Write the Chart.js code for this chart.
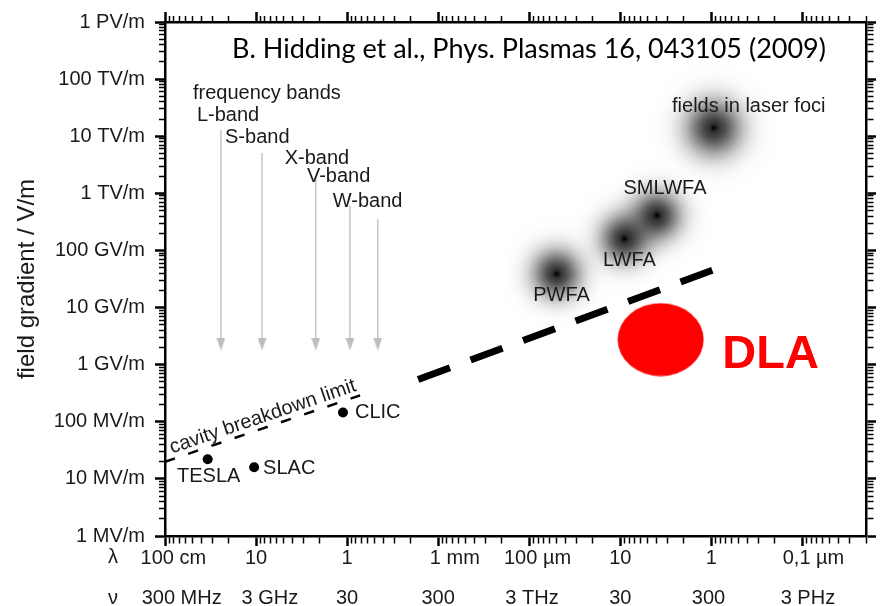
<!DOCTYPE html>
<html>
<head>
<meta charset="utf-8">
<title>Accelerating field gradients</title>
<script src="https://cdn.jsdelivr.net/npm/chart.js@4.4.0/dist/chart.umd.min.js"></script>
<style>
  html, body { margin: 0; padding: 0; background: #fff; }
</style>
</head>
<body>
<canvas id="myChart" width="880" height="606"></canvas>
<script>
// axis ranges (wavelength in m, field in V/m, frequency in Hz)
const lambdaMin = 2e-8, lambdaMax = 1;
const fieldMin = 1e6, fieldMax = 1e15;
const freqMin = 3e8, freqMax = 1.5e16;

// tick labels
const lambdaTicks = [1, 0.1, 0.01, 1e-3, 1e-4, 1e-5, 1e-6, 1e-7];
const lambdaLabels = ['100 cm', '10', '1', '1 mm', '100 µm', '10', '1', '0,1 µm'];
const freqTicks = [3e8, 3e9, 3e10, 3e11, 3e12, 3e13, 3e14, 3e15];
const freqLabels = ['300 MHz', '3 GHz', '30', '300', '3 THz', '30', '300', '3 PHz'];
const fieldTicks = [1e6, 1e7, 1e8, 1e9, 1e10, 1e11, 1e12, 1e13, 1e14, 1e15];
const fieldLabels = ['1 MV/m', '10 MV/m', '100 MV/m', '1 GV/m', '10 GV/m', '100 GV/m',
                     '1 TV/m', '10 TV/m', '100 TV/m', '1 PV/m'];

// rf accelerators
const rfNames = ['TESLA', 'SLAC', 'CLIC'];
const rfLambda = [0.34, 0.105, 0.0111];
const rfField = [2.2e7, 1.6e7, 1.45e8];

// plasma / laser regimes
const plasmaNames = ['PWFA', 'LWFA', 'SMLWFA', 'fields in laser foci'];
const plasmaLambda = [5.0e-5, 9.0e-6, 3.95e-6, 9.4e-7];
const plasmaField = [3.9e10, 1.6e11, 4.1e11, 1.4e13];

// dielectric laser acceleration
const dlaLambda = [3.6e-6];
const dlaField = [2.75e9];

// cavity breakdown limit (thin) and its extension (thick)
const cavityLambda = [1, 7.2e-3];
const cavityField = [2.0e7, 2.9e8];
const limitLambda = [1.66e-3, 9.75e-7];
const limitField = [5.5e8, 4.5e10];

// frequency band arrows
const bandNames = ['L-band', 'S-band', 'X-band', 'V-band', 'W-band'];
const bandLambda = [0.243, 0.086, 0.0221, 0.0093, 0.0046];
const bandTop = [1.28e13, 5.1e12, 2.0e12, 6.1e11, 3.5e11];
const bandBottom = 2.3e9;

// ---- styling helpers ----
const FONT = "'Liberation Sans', Arial, sans-serif";
const INK = '#1a1a1a';
const lambdaNudge = [9, 0, 0, 16, 8, 0, 0, 11];
const freqNudge = [16, 13, 0, 0, 3, 0, -4, 6];

function isDecade(v) {
  const e = Math.log10(v);
  return Math.abs(e - Math.round(e)) < 1e-6;
}
function sameLog(a, b) { return Math.abs(Math.log10(a) - Math.log10(b)) < 1e-6; }

function logTicks(min, max) {
  const out = [];
  for (let e = Math.floor(Math.log10(min)); e <= Math.ceil(Math.log10(max)); e++) {
    for (let k = 1; k < 10; k++) {
      const v = k * Math.pow(10, e);
      if (v >= min * 0.999 && v <= max * 1.001) out.push({ value: v, major: k === 1 });
    }
  }
  return out;
}

function nudge(label, px) {
  const n = Math.round(Math.abs(px) / 2.8);
  return px >= 0 ? ' '.repeat(n) + label : label + ' '.repeat(n);
}

function frame(side) {
  const outerFirst = side === 'left' || side === 'top';
  return {
    drawOnChartArea: false,
    drawTicks: true,
    tickLength: 10,
    tickColor: '#000',
    tickWidth: c => (c.tick && c.tick.major ? 2.5 : 1.5),
    tickBorderDash: c => (c.tick && c.tick.major ? [] : (outerFirst ? [0, 4, 6, 100] : [6, 100])),
    color: 'rgba(0,0,0,0)'
  };
}
const border = { display: true, color: '#000', width: 2.5 };

// blob / ellipse / arrowhead sprites used as point styles
function makeBlob(sigma) {
  const size = Math.ceil(sigma * 7);
  const c = document.createElement('canvas');
  c.width = c.height = size;
  const g = c.getContext('2d');
  const img = g.createImageData(size, size);
  const m = (size - 1) / 2;
  for (let j = 0; j < size; j++) {
    for (let i = 0; i < size; i++) {
      const r2 = (i - m) * (i - m) + (j - m) * (j - m);
      const a = 0.82 * Math.exp(-r2 / (2 * sigma * sigma)) + 0.18 * Math.exp(-r2 / 8);
      const p = (j * size + i) * 4;
      img.data[p] = img.data[p + 1] = img.data[p + 2] = 0;
      img.data[p + 3] = Math.round(Math.min(1, a) * 255);
    }
  }
  g.putImageData(img, 0, 0);
  return c;
}
function makeEllipse(w, h, color) {
  const c = document.createElement('canvas');
  c.width = w; c.height = h;
  const g = c.getContext('2d');
  g.fillStyle = color;
  g.beginPath();
  g.ellipse(w / 2, h / 2, w / 2 - 0.5, h / 2 - 0.5, 0, 0, Math.PI * 2);
  g.fill();
  return c;
}
function makeArrowHead(w, h, color) {
  const c = document.createElement('canvas');
  c.width = w; c.height = h;
  const g = c.getContext('2d');
  g.fillStyle = color;
  g.beginPath();
  g.moveTo(0, 0); g.lineTo(w, 0); g.lineTo(w / 2, h); g.closePath();
  g.fill();
  return c;
}

const blobSmall = makeBlob(16.5);
const blobBig = makeBlob(19);
const dlaSprite = makeEllipse(87, 74, '#ff0000');
const arrowSprite = makeArrowHead(9, 13, '#bdbdbd');

const pts = (xs, ys) => xs.map((x, i) => ({ x: x, y: ys[i] }));

const datasets = [
  {
    label: 'rf', data: pts(rfLambda, rfField),
    pointStyle: 'circle', pointRadius: 5, backgroundColor: '#000', borderWidth: 0
  },
  {
    label: 'DLA', data: pts(dlaLambda, dlaField),
    pointStyle: dlaSprite, pointRadius: 10
  },
  {
    label: 'cavity', data: pts(cavityLambda, cavityField), showLine: true,
    borderColor: '#000', borderWidth: 2.5, borderDash: [10.5, 14], pointRadius: 0
  },
  {
    label: 'limit', data: pts(limitLambda, limitField), showLine: true,
    borderColor: '#000', borderWidth: 7, borderDash: [34, 22], pointRadius: 0
  }
];
bandNames.forEach((name, i) => {
  datasets.push({
    label: name,
    data: [{ x: bandLambda[i], y: bandTop[i] }, { x: bandLambda[i], y: bandBottom }],
    showLine: true, borderColor: '#c4c4c4', borderWidth: 1.5,
    pointRadius: [0, 5], pointStyle: arrowSprite
  });
});
datasets.push({
  label: 'plasma', data: pts(plasmaLambda, plasmaField),
  pointRadius: 10, pointStyle: [blobSmall, blobSmall, blobSmall, blobBig]
});

// label placement relative to marks (px)
const rfLabelPos = [[1, 17, 'center'], [9, 1, 'left'], [12, 0, 'left']];
const plasmaLabelPos = [[5, 22], [5, 22], [8, -27], [35, -21]];
const bandLabelPos = [[-24, -15], [-37, -15], [-31, -18], [-43, -29], [-45, -18]];

const annotate = {
  id: 'annotate',
  afterDatasetsDraw(chart) {
    const { ctx, scales } = chart;
    const X = v => scales.x.getPixelForValue(v);
    const Y = v => scales.y.getPixelForValue(v);
    const put = (s, x, y, align, font, color) => {
      ctx.font = font || '20px ' + FONT;
      ctx.fillStyle = color || INK;
      ctx.textAlign = align || 'center';
      ctx.textBaseline = 'middle';
      ctx.fillText(s, x, y);
    };
    ctx.save();

    rfNames.forEach((n, i) => {
      const p = rfLabelPos[i];
      put(n, X(rfLambda[i]) + p[0], Y(rfField[i]) + p[1], p[2]);
    });
    plasmaNames.forEach((n, i) => {
      const p = plasmaLabelPos[i];
      put(n, X(plasmaLambda[i]) + p[0], Y(plasmaField[i]) + p[1], 'center');
    });
    bandNames.forEach((n, i) => {
      const p = bandLabelPos[i];
      put(n, X(bandLambda[i]) + p[0], Y(bandTop[i]) + p[1], 'left');
    });
    put('frequency bands', X(bandLambda[0]) - 28, Y(bandTop[0]) - 37, 'left');

    // DLA
    put('DLA', X(dlaLambda[0]) + 110, Y(dlaField[0]) + 15, 'center', 'bold 47px ' + FONT, '#ff0000');

    // cavity breakdown limit, written along the line
    const x0 = X(cavityLambda[0]), y0 = Y(cavityField[0]);
    const x1 = X(cavityLambda[1]), y1 = Y(cavityField[1]);
    const ang = Math.atan2(y1 - y0, x1 - x0);
    const mx = (x0 + x1) / 2 + Math.cos(ang) * 4 + Math.sin(ang) * 11;
    const my = (y0 + y1) / 2 + Math.sin(ang) * 4 - Math.cos(ang) * 11;
    ctx.save();
    ctx.translate(mx, my);
    ctx.rotate(ang);
    put('cavity breakdown limit', 0, 0, 'center');
    ctx.restore();

    // row markers for the two bottom axes
    put('λ', 113, scales.x.top + 21, 'center');
    put('ν', 113, scales.nu.top + 22, 'center');

    // citation
    const area = chart.chartArea;
    put('B. Hidding et al., Phys. Plasmas 16, 043105 (2009)', area.left + 364, area.top + 27,
        'center', '27px Lato, ' + FONT, '#000');
    ctx.restore();
  }
};

const ctx = document.getElementById('myChart');

new Chart(ctx, {
  type: 'scatter',
  data: { datasets: datasets },
  options: {
    responsive: false,
    animation: false,
    events: [],
    layout: { padding: 0 },
    plugins: { legend: { display: false }, tooltip: { enabled: false } },
    scales: {
      x: {
        type: 'logarithmic', position: 'bottom', reverse: true,
        min: lambdaMin, max: lambdaMax, weight: 0,
        afterBuildTicks: s => { s.ticks = logTicks(lambdaMin, lambdaMax); },
        afterFit: s => { s.height = 40; },
        grid: frame('bottom'), border: border,
        ticks: {
          autoSkip: false, maxRotation: 0, padding: 0, color: INK,
          font: { family: FONT, size: 20 },
          callback: v => {
            if (!isDecade(v)) return '';
            const i = lambdaTicks.findIndex(t => sameLog(t, v));
            return i < 0 ? '' : nudge(lambdaLabels[i], lambdaNudge[i]);
          }
        }
      },
      nu: {
        type: 'logarithmic', position: 'bottom', display: true,
        min: freqMin, max: freqMax, weight: 1,
        afterBuildTicks: s => { s.ticks = freqTicks.map(v => ({ value: v })); },
        afterFit: s => { s.height = 30; },
        grid: { display: false, drawTicks: false }, border: { display: false },
        ticks: {
          autoSkip: false, maxRotation: 0, padding: 10, color: INK,
          font: { family: FONT, size: 20 },
          callback: v => {
            const i = freqTicks.findIndex(t => sameLog(t, v));
            return i < 0 ? '' : nudge(freqLabels[i], freqNudge[i]);
          }
        }
      },
      xTop: {
        type: 'logarithmic', position: 'top', reverse: true, display: true,
        min: lambdaMin, max: lambdaMax,
        afterBuildTicks: s => { s.ticks = logTicks(lambdaMin, lambdaMax); },
        afterFit: s => { s.height = 18; },
        grid: frame('top'), border: border,
        ticks: { display: false, autoSkip: false }
      },
      y: {
        type: 'logarithmic', position: 'left',
        min: fieldMin, max: fieldMax,
        afterBuildTicks: s => { s.ticks = logTicks(fieldMin, fieldMax); },
        afterFit: s => { s.width = 165; },
        grid: frame('left'), border: border,
        title: {
          display: true, text: 'field gradient / V/m', color: INK,
          font: { family: FONT, size: 24 }, padding: { top: 13, bottom: 0 }
        },
        ticks: {
          autoSkip: false, padding: 10, color: INK,
          font: { family: FONT, size: 20 },
          callback: v => {
            if (!isDecade(v)) return '';
            const i = fieldTicks.findIndex(t => sameLog(t, v));
            return i < 0 ? '' : fieldLabels[i];
          }
        }
      },
      yRight: {
        type: 'logarithmic', position: 'right', display: true,
        min: fieldMin, max: fieldMax,
        afterBuildTicks: s => { s.ticks = logTicks(fieldMin, fieldMax); },
        afterFit: s => { s.width = 14; },
        grid: frame('right'), border: border,
        ticks: { display: false, autoSkip: false }
      }
    }
  },
  plugins: [annotate]
});
</script>
</body>
</html>
